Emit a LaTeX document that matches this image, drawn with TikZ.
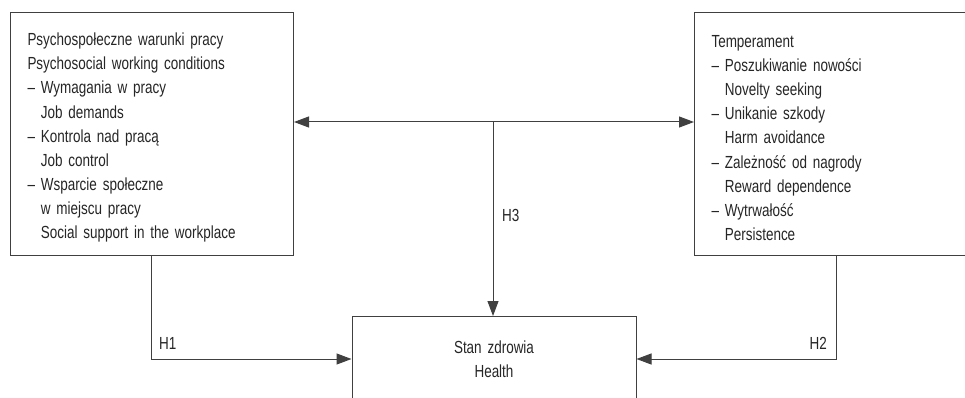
\documentclass[tikz,border=0pt]{standalone}
\usepackage{fontspec}
\setmainfont{Liberation Sans}[FakeStretch=0.77]
\usetikzlibrary{arrows.meta,positioning}

% first line of an item, and its continuation
\newcommand{\itm}[1]{-- #1}
\newcommand{\cont}[1]{\hphantom{-- }#1}

\tikzset{
  box/.style={draw=black!75, line width=1pt, rectangle, text=black!85,
    inner xsep=17pt, align=left, font=\fontsize{17.5}{24.1}\selectfont},
  listbox/.style={box, anchor=north west, minimum height=243pt,
    execute at begin node={\rule{0pt}{20pt}}},
  conn/.style={draw=black!75, line width=1pt,
    -{Triangle[length=15pt,width=11pt]}},
  hyp/.style={text=black!85, inner sep=0pt, font=\fontsize{17.5}{20}\selectfont},
}

\begin{document}
\begin{tikzpicture}[x=1pt,y=1pt,yscale=-1,xscale=1]
    \useasboundingbox (0,0) rectangle (965,398);
    \fill[white] (0,0) rectangle (965,398);
    \clip (0,0) rectangle (965,398);

    % boxes
    \node[listbox, minimum width=283pt, text width=249pt] (work) at (10,12)
      {Psychospołeczne warunki pracy\\
      Psychosocial working conditions\\
      \itm{Wymagania w pracy}\\
      \cont{Job demands}\\
      \itm{Kontrola nad pracą}\\
      \cont{Job control}\\
      \itm{Wsparcie społeczne}\\
      \cont{w miejscu pracy}\\
      \cont{Social support in the workplace}};
    \node[listbox, minimum width=300pt, text width=266pt] (temp) at (694,12)
      {Temperament\\
      \itm{Poszukiwanie nowości}\\
      \cont{Novelty seeking}\\
      \itm{Unikanie szkody}\\
      \cont{Harm avoidance}\\
      \itm{Zależność od nagrody}\\
      \cont{Reward dependence}\\
      \itm{Wytrwałość}\\
      \cont{Persistence}};
    \node[box, anchor=north, minimum width=284pt, minimum height=110pt,
      align=center, text width=250pt, inner ysep=24pt, text depth=48pt]
      (health) at (494,316) {Stan zdrowia\\Health};

    % connectors
    \coordinate (mid) at (493,122);
    \coordinate (h1c) at (151,359);
    \coordinate (h2c) at (836,359);
    \draw[conn, {Triangle[length=15pt,width=11pt]}-{Triangle[length=15pt,width=11pt]}]
      (work.east |- mid) -- (temp.west |- mid);
    \draw[conn] (mid) -- (health.north -| mid);
    \draw[conn] (work.south -| h1c) |- (health.west |- h1c);
    \draw[conn] (temp.south -| h2c) |- (health.east |- h2c);

    % labels
    \node[hyp, anchor=west] (h1) at (159,343) {H1};
    \node[hyp, anchor=east] (h2) at (827,343) {H2};
    \node[hyp, anchor=west] (h3) at (502,215) {H3};
\end{tikzpicture}
\end{document}
